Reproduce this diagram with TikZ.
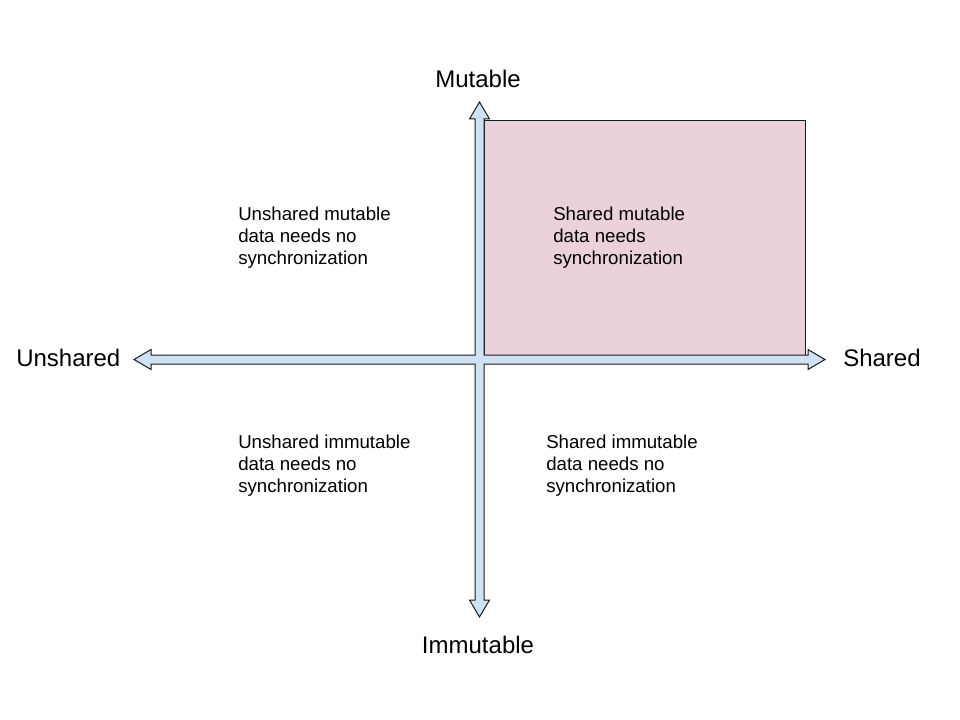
\documentclass[tikz,border=0pt]{standalone}
\usepackage{fontspec}
\setmainfont{Liberation Sans}
\usetikzlibrary{positioning}
\definecolor{qBlue}{HTML}{CFE2F3}
\definecolor{qPink}{HTML}{EAD1DC}
\definecolor{qLine}{HTML}{1A1A1A}

\begin{document}
\begin{tikzpicture}[x=0.75pt, y=-0.75pt,
    axislabel/.style={inner sep=0pt, font=\fontsize{18}{21}\selectfont},
    quadtext/.style={inner sep=0pt, align=left, anchor=west, font=\fontsize{14}{16.5}\selectfont}]
    \useasboundingbox (0,0) rectangle (960,720);
    % centre of the cross, shaft half width, head half width, head length
    \def\cx{479.5} \def\cy{359.5}
    \def\sh{4.5} \def\hh{10} \def\hl{17}
    \def\xl{134} \def\xr{825} \def\yt{102} \def\yb{617}
    % shared mutable quadrant
    \draw[qLine, fill=qPink, line width=0.75pt] ({\cx+\sh},121) rectangle (805,{\cy-\sh});
    % both block arrows as one outline
    \draw[qLine, fill=qBlue, line width=0.75pt, line join=miter]
      (\cx,\yt) -- ({\cx+\hh},{\yt+\hl}) -- ({\cx+\sh},{\yt+\hl}) -- ({\cx+\sh},{\cy-\sh})
      -- ({\xr-\hl},{\cy-\sh}) -- ({\xr-\hl},{\cy-\hh}) -- (\xr,\cy) -- ({\xr-\hl},{\cy+\hh})
      -- ({\xr-\hl},{\cy+\sh}) -- ({\cx+\sh},{\cy+\sh}) -- ({\cx+\sh},{\yb-\hl})
      -- ({\cx+\hh},{\yb-\hl}) -- (\cx,\yb) -- ({\cx-\hh},{\yb-\hl}) -- ({\cx-\sh},{\yb-\hl})
      -- ({\cx-\sh},{\cy+\sh}) -- ({\xl+\hl},{\cy+\sh}) -- ({\xl+\hl},{\cy+\hh}) -- (\xl,\cy)
      -- ({\xl+\hl},{\cy-\hh}) -- ({\xl+\hl},{\cy-\sh}) -- ({\cx-\sh},{\cy-\sh})
      -- ({\cx-\sh},{\yt+\hl}) -- ({\cx-\hh},{\yt+\hl}) -- cycle;
    % axis labels
    \node[axislabel] (mutable) at (478,79) {Mutable};
    \node[axislabel] (immutable) at (478,645) {Immutable};
    \node[axislabel, anchor=west] (unshared) at (16,358) {Unshared};
    \node[axislabel, anchor=west] (shared) at (843,358) {Shared};
    % quadrant texts
    \node[quadtext] (unsharedMut) at (238,238) {Unshared mutable\\data needs no\\synchronization};
    \node[quadtext] (sharedMut) at (553,238) {Shared mutable\\data needs\\synchronization};
    \node[quadtext] (unsharedImm) at (238,466) {Unshared immutable\\data needs no\\synchronization};
    \node[quadtext] (sharedImm) at (546,466) {Shared immutable\\data needs no\\synchronization};
\end{tikzpicture}
\end{document}
